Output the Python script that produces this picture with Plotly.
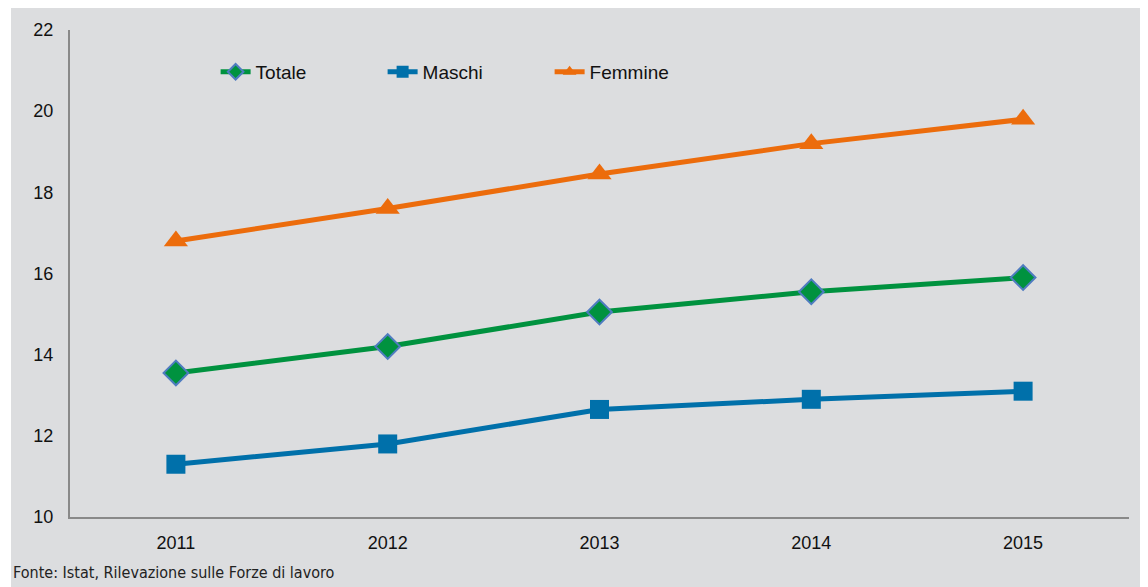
import plotly.graph_objects as go

years = ["2011", "2012", "2013", "2014", "2015"]
totale = [13.55, 14.2, 15.05, 15.55, 15.9]
maschi = [11.3, 11.8, 12.65, 12.9, 13.1]
femmine = [16.8, 17.6, 18.45, 19.2, 19.8]
y_ticks = [10, 12, 14, 16, 18, 20, 22]

BG = "#dcdddf"
GREEN = "#00923f"
BLUE = "#0070aa"
ORANGE = "#ec6c0c"

fig = go.Figure()
fig.add_trace(go.Scatter(
    x=years, y=totale, name="Totale", mode="lines+markers",
    line=dict(color=GREEN, width=5),
    marker=dict(symbol="diamond", size=19, color=GREEN,
                line=dict(color="#4f7cc0", width=2)),
))
fig.add_trace(go.Scatter(
    x=years, y=maschi, name="Maschi", mode="lines+markers",
    line=dict(color=BLUE, width=5),
    marker=dict(symbol="square", size=19, color=BLUE),
))
fig.add_trace(go.Scatter(
    x=years, y=femmine, name="Femmine", mode="lines+markers",
    line=dict(color=ORANGE, width=5),
    marker=dict(symbol="triangle-up", size=21, color=ORANGE),
))

fig.add_shape(type="rect", xref="paper", yref="paper",
              x0=-0.0557, x1=1.05, y0=-0.2, y1=1.06,
              fillcolor=BG, line=dict(width=0), layer="below")

fig.add_annotation(
    text="Fonte: Istat, Rilevazione sulle Forze di lavoro",
    xref="paper", yref="paper", x=-0.0557, y=-0.113,
    xanchor="left", yanchor="middle", showarrow=False,
    font=dict(family="Liberation Sans Narrow, DejaVu Sans Condensed, Arial", size=16, color="#222222"),
)

fig.update_layout(
    width=1140, height=579,
    margin=dict(l=62, r=19, t=22, b=70),
    paper_bgcolor="white",
    plot_bgcolor="rgba(0,0,0,0)",
    font=dict(family="Liberation Sans, Arial, sans-serif", size=18, color="#111111"),
    showlegend=True,
    legend=dict(
        orientation="h", x=0.1375, y=0.914, xanchor="left", yanchor="middle",
        bgcolor="rgba(0,0,0,0)", font=dict(size=19, color="#111111"),
        itemsizing="constant", entrywidth=122, entrywidthmode="pixels",
    ),
    xaxis=dict(
        type="category", range=[-0.5, 4.5],
        showgrid=False, zeroline=False,
        showline=True, linecolor="#898989", linewidth=2,
        ticks="", ticklabelstandoff=8,
    ),
    yaxis=dict(
        range=[10, 22], tickvals=y_ticks, ticktext=[str(v) for v in y_ticks],
        showgrid=False, zeroline=False,
        showline=True, linecolor="#898989", linewidth=2,
        ticks="", ticklabelstandoff=11,
    ),
)

fig.write_html("out.html")
